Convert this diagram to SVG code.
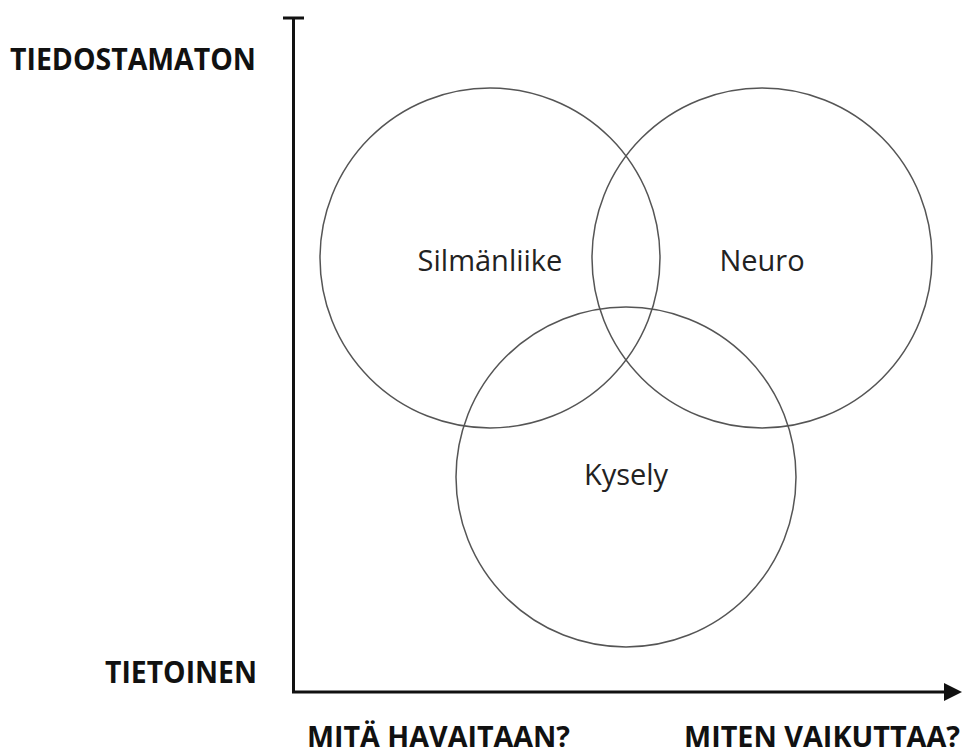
<svg xmlns="http://www.w3.org/2000/svg" width="967" height="756" viewBox="0 0 967 756">
<style>
.lbl{font-family:"Open Sans","Liberation Sans",sans-serif;font-weight:bold;fill:#111;font-size:31px}
.ax{font-family:"Open Sans","Liberation Sans",sans-serif;font-weight:bold;fill:#111;font-size:28px}
.nt{font-family:"Open Sans","Liberation Sans",sans-serif;fill:#222;font-size:29px;text-anchor:middle}
.c{fill:none;stroke:#555;stroke-width:1.5}
.axis{fill:none;stroke:#111;stroke-width:3}
</style>
<defs>
<marker id="arr" markerWidth="6" markerHeight="6" refX="2" refY="3" orient="auto" markerUnits="strokeWidth">
<path d="M0,0 L6,3 L0,6 Z" fill="#111"/>
</marker>
</defs>
<rect width="967" height="756" fill="#fff"/>
<g id="connectors">
<path class="axis" d="M283,18 H304 M293.5,18 V692 H950" marker-end="url(#arr)"/>
</g>
<g id="silmanliike">
<circle class="c" cx="490" cy="258" r="170"/>
<text class="nt" x="490" y="271">Silmänliike</text>
</g>
<g id="neuro">
<circle class="c" cx="762" cy="258" r="170"/>
<text class="nt" x="762" y="271">Neuro</text>
</g>
<g id="kysely">
<circle class="c" cx="626" cy="477" r="170"/>
<text class="nt" x="626" y="485">Kysely</text>
</g>
<g id="labels">
<text class="lbl" x="10" y="70" textLength="246" lengthAdjust="spacingAndGlyphs">TIEDOSTAMATON</text>
<text class="lbl" x="105" y="683" textLength="152" lengthAdjust="spacingAndGlyphs">TIETOINEN</text>
<text class="ax" x="307" y="747" textLength="263" lengthAdjust="spacingAndGlyphs">MITÄ HAVAITAAN?</text>
<text class="ax" x="684" y="747" textLength="276" lengthAdjust="spacingAndGlyphs">MITEN VAIKUTTAA?</text>
</g>
</svg>
